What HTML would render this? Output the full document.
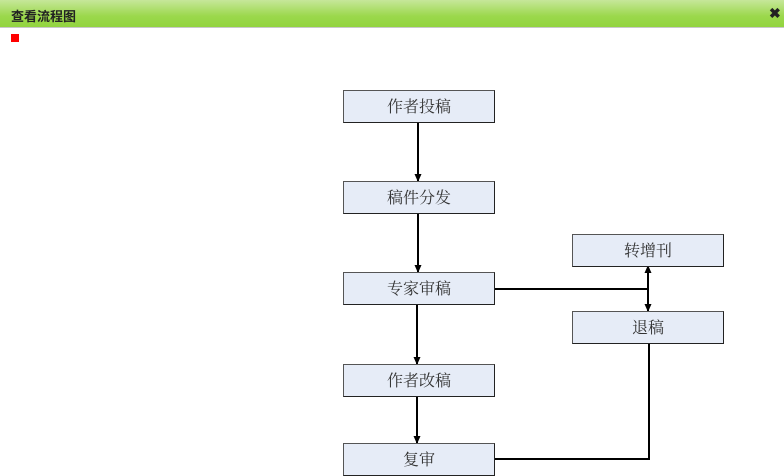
<!DOCTYPE html>
<html><head><meta charset="utf-8"><style>
body{margin:0;width:784px;height:466px;overflow:hidden;background:#fff;font-family:"Liberation Sans","Noto Sans CJK SC",sans-serif;}
.hd{position:absolute;left:0;top:0;width:784px;height:27px;background:linear-gradient(#c6e79a,#9bd84c 60%,#92d43f);border-bottom:1px solid #c8c8c8;}
.hd .t{position:absolute;left:11px;top:6px;font-size:13px;font-weight:bold;color:#222;}
.hd .x{position:absolute;left:769px;top:5px;font-size:14px;font-weight:bold;color:#222;}
.sq{position:absolute;left:11px;top:34px;width:8px;height:8px;background:#f00;}
.b{position:absolute;box-sizing:border-box;width:152px;height:33px;background:#e6ecf7;border:1px solid #222;border-left-color:#555;border-top-color:#555;text-align:center;line-height:30px;font-size:16px;color:#333;font-family:"Noto Serif CJK SC","Noto Sans CJK SC",sans-serif;}
</style></head><body>
<div class="hd"><span class="t">查看流程图</span><span class="x">✖</span></div>
<div class="sq"></div>
<svg style="position:absolute;left:0;top:0" width="784" height="466">
<defs><marker id="a" markerWidth="8" markerHeight="8" refX="7" refY="4" orient="auto" markerUnits="userSpaceOnUse"><path d="M0,0.5 L8,4 L0,7.5Z" fill="#000"/></marker></defs>
<g stroke="#000" stroke-width="2" fill="none">
<line x1="418" y1="122" x2="418" y2="181" marker-end="url(#a)"/>
<line x1="418" y1="213" x2="418" y2="272" marker-end="url(#a)"/>
<line x1="417" y1="304" x2="417" y2="364" marker-end="url(#a)"/>
<line x1="417" y1="396" x2="417" y2="443" marker-end="url(#a)"/>
<polyline points="494,289 648,289"/>
<line x1="648" y1="289" x2="648" y2="266" marker-end="url(#a)"/>
<line x1="648" y1="289" x2="648" y2="311" marker-end="url(#a)"/>
<polyline points="494,459 649,459 649,343"/>
</g>
</svg>
<div class="b" style="left:343px;top:90px">作者投稿</div>
<div class="b" style="left:343px;top:181px">稿件分发</div>
<div class="b" style="left:343px;top:272px">专家审稿</div>
<div class="b" style="left:343px;top:364px">作者改稿</div>
<div class="b" style="left:343px;top:443px">复审</div>
<div class="b" style="left:572px;top:234px">转增刊</div>
<div class="b" style="left:572px;top:311px">退稿</div>
</body></html>
